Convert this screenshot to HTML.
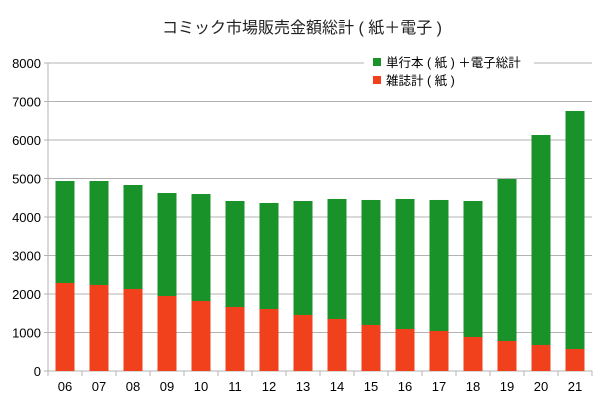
<!DOCTYPE html>
<html><head><meta charset="utf-8"><style>
body{margin:0;background:#fff}
svg{display:block;font-family:"Liberation Sans","Noto Sans CJK JP",sans-serif}
</style></head><body>
<svg id="c" width="604" height="406"></svg>
<script>
const categories=["06","07","08","09","10","11","12","13","14","15","16","17","18","19","20","21"];
const magazineValues=[2286,2234,2130,1948,1818,1662,1610,1455,1351,1195,1091,1039,883,779,675,571];
const totalValues=[4935,4935,4831,4623,4597,4416,4364,4416,4468,4442,4468,4442,4416,4987,6130,6753];
const yTicks=[0,1000,2000,3000,4000,5000,6000,7000,8000];
const svg=document.getElementById('c');
const NS="http://www.w3.org/2000/svg";
const X0=48,X1=592,Y0=371,Y1=63,YMAX=8000;
const band=(X1-X0)/categories.length;
function y(v){return Y0-(v/YMAX)*(Y0-Y1);}
function xc(i){return X0+band*(i+0.5);}
function mk(t,a,p){const e=document.createElementNS(NS,t);for(const k in a)e.setAttribute(k,a[k]);(p||svg).appendChild(e);return e;}
const title=mk('text',{x:302,y:33,'text-anchor':'middle','font-size':16,fill:'#222'});
title.textContent='コミック市場販売金額総計 ( 紙＋電子 )';


yTicks.forEach(t=>{
 const l=mk('line',{x1:X0-4,x2:X1,y1:y(t),y2:y(t),stroke:'#b3b3b3','stroke-width':1});
 
 
 const tx=mk('text',{x:X0-7,y:y(t)+5,'text-anchor':'end','font-size':13,fill:'#000'});
 tx.textContent=t;
 
 
});
mk('line',{x1:X0,x2:X0,y1:Y1,y2:Y0+4,stroke:'#b3b3b3'});
for(let i=0;i<=categories.length;i++){mk('line',{x1:X0+band*i,x2:X0+band*i,y1:Y0,y2:Y0+5,stroke:'#b3b3b3'});}
const bw=19;
categories.forEach((c,i)=>{
 const g=mk('rect',{x:xc(i)-bw/2,y:y(totalValues[i]),width:bw,height:y(magazineValues[i])-y(totalValues[i]),fill:'#1a922a'});
 
 
 const r=mk('rect',{x:xc(i)-bw/2,y:y(magazineValues[i]),width:bw,height:Y0-y(magazineValues[i]),fill:'#f0401c'});
 
 
 const t=mk('text',{x:xc(i),y:Y0+20,'text-anchor':'middle','font-size':13,fill:'#000'});
 t.textContent=c;
 
 
});
const lg=mk('g',{});


mk('rect',{x:364,y:58,width:170,height:32,fill:'#fff'},lg);
mk('rect',{x:373,y:58,width:8,height:8,fill:'#1a922a'},lg);
const l1=mk('text',{x:386,y:67,'font-size':12.5,fill:'#000'},lg);
l1.textContent='単行本 ( 紙 ) ＋電子総計';


mk('rect',{x:373,y:76,width:8,height:8,fill:'#f0401c'},lg);
const l2=mk('text',{x:386,y:85,'font-size':12.5,fill:'#000'},lg);
l2.textContent='雑誌計 ( 紙 )';


</script>
</body></html>
